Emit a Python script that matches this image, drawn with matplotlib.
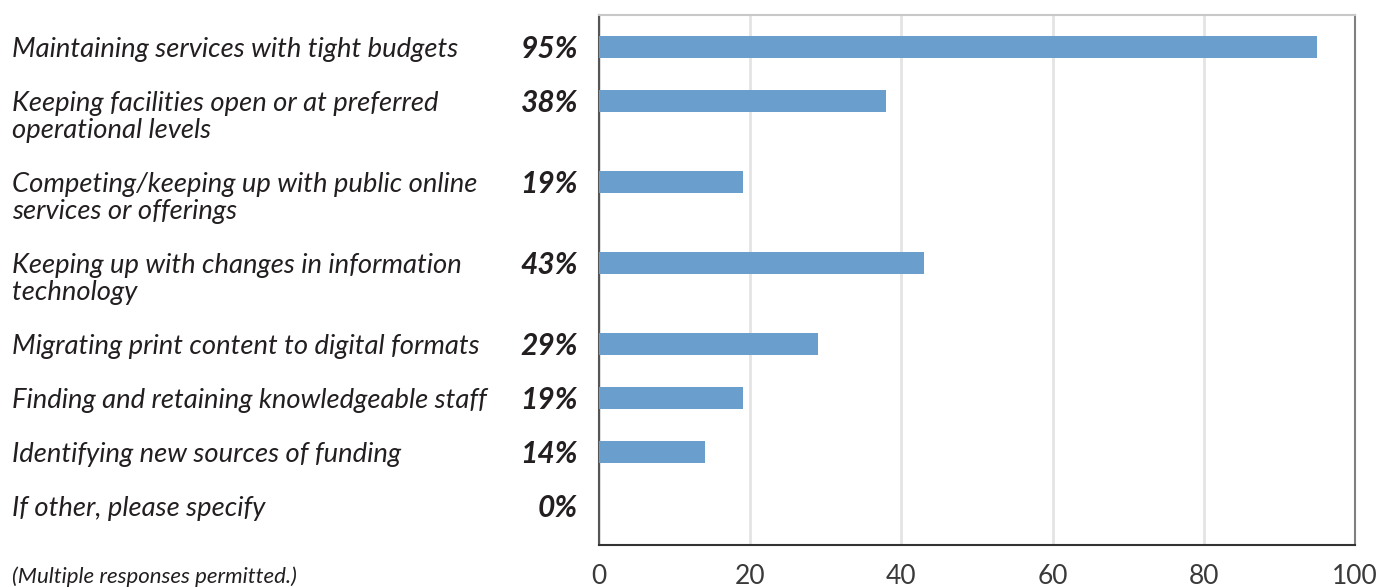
import numpy as np
import matplotlib.pyplot as plt
from matplotlib.transforms import blended_transform_factory

categories = [
    "Maintaining services with tight budgets",
    "Keeping facilities open or at preferred\noperational levels",
    "Competing/keeping up with public online\nservices or offerings",
    "Keeping up with changes in information\ntechnology",
    "Migrating print content to digital formats",
    "Finding and retaining knowledgeable staff",
    "Identifying new sources of funding",
    "If other, please specify",
]
values = [95, 38, 19, 43, 29, 19, 14, 0]
footnote = "(Multiple responses permitted.)"

plt.rcParams["font.family"] = ["Lato", "DejaVu Sans"]
text_color = "#231f20"
bar_color = "#699ecd"

# two-line labels get an extra half row
pos = []
y = 0.0
for cat in categories:
    pos.append(y)
    y += 1.0 + 0.5 * cat.count("\n")
pos = np.array(pos)

W, H = 1379, 587
fig = plt.figure(figsize=(W / 100, H / 100), dpi=100)
ax = fig.add_axes([599 / W, 1 - 545 / H, (1355 - 599) / W, (545 - 15) / H])

ax.barh(pos, values, height=0.42, color=bar_color, zorder=3)

ax.set_xlim(0, 100)
ax.set_ylim(9.22, -0.593)
ax.set_xticks(np.arange(0, 101, 20))
ax.set_yticks([])
ax.tick_params(axis="x", length=0, pad=14, labelsize=19, labelcolor="#3a3a3a")
ax.xaxis.grid(True, color="#e4e4e4", linewidth=2, zorder=0)

ax.spines["top"].set_color("#c8c8c8")
ax.spines["right"].set_color("#808080")
ax.spines["left"].set_color("#555555")
ax.spines["bottom"].set_color("#333333")
for s in ax.spines.values():
    s.set_linewidth(1.5)

# labels: x in figure fraction, y in data units (0.04 nudges text down ~2px)
trans = blended_transform_factory(fig.transFigure, ax.transData)
for p, cat, v in zip(pos, categories, values):
    for i, line in enumerate(cat.split("\n")):
        fig.text(12 / W, p + 0.5 * i + 0.04, line, transform=trans,
                 fontsize=19.7, style="italic", color=text_color,
                 ha="left", va="center")
    fig.text(578 / W, p + 0.04, f"{v}%", transform=trans, fontsize=21.5,
             style="italic", fontweight="bold", color=text_color,
             ha="right", va="center")

fig.text(12 / W, 1 - 577 / H, footnote, fontsize=16, style="italic",
         color=text_color, ha="left", va="center")

fig.savefig("out.png", dpi=100, facecolor="white")
